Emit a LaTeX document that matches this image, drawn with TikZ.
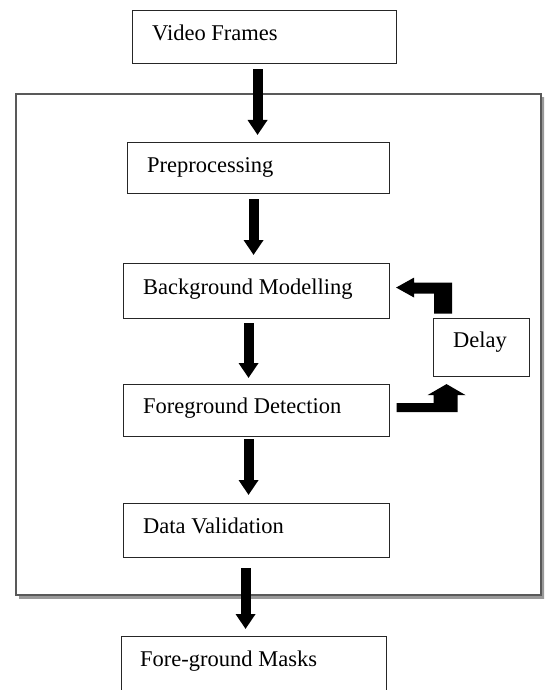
\documentclass[tikz,border=0pt]{standalone}
\usepackage{fontspec}
\setmainfont{Liberation Serif}
\usetikzlibrary{arrows.meta,calc}
\tikzset{
  box/.style={draw=black!85, line width=1.1pt, fill=white, anchor=north west, inner sep=0pt},
  lbl/.style={anchor=base west, inner sep=0pt, font=\fontsize{22.5}{27}\selectfont},
  barrow/.style={line width=10pt, -{Triangle[length=15pt,width=19pt]}},
  bent/.style={fill=black},
}
\begin{document}
\begin{tikzpicture}[x=1pt,y=-1pt]
\clip (0,0) rectangle (544,690);
\fill[white] (0,0) rectangle (544,690);
% outer frame with shadow on the bottom and right
\draw[black!40, line width=3pt] (19,597.5) -- (543,597.5) -- (543,97);
\draw[black!65, line width=1.8pt] (16,94) rectangle (541,595);
% boxes
\node[box, minimum width=264pt, minimum height=53pt] (vf) at (132,10) {};
\node[box, minimum width=262pt, minimum height=51pt] (pp) at (127,142) {};
\node[box, minimum width=266pt, minimum height=55pt] (bg) at (123,263) {};
\node[box, minimum width=266pt, minimum height=52pt] (fg) at (123,384) {};
\node[box, minimum width=266pt, minimum height=54pt] (dv) at (123,503) {};
\node[box, minimum width=265pt, minimum height=70pt] (fm) at (121,636) {};
\node[box, minimum width=96pt, minimum height=58pt] (dl) at (433,318) {};
% labels
\node[lbl] (vft) at (152,41) {Video Frames};
\node[lbl] (ppt) at (147,172) {Preprocessing};
\node[lbl] (bgt) at (143,294) {Background Modelling};
\node[lbl] (fgt) at (143,413) {Foreground Detection};
\node[lbl] (dvt) at (143,533) {Data Validation};
\node[lbl] (dlt) at (453,347) {Delay};
\node[lbl] (fmt) at (140,666) {Fore-ground Masks};
% straight arrows
\draw[barrow] ([shift={(-7,5)}]vf.south) -- ([shift={(-1,-7)}]pp.north);
\draw[barrow] ([shift={(-5,5)}]pp.south) -- ([shift={(-3,-8)}]bg.north);
\draw[barrow] ([shift={(-8,4)}]bg.south) -- ([shift={(-8,-6)}]fg.north);
\draw[barrow] ([shift={(-8,2)}]fg.south) -- ([shift={(-8,-8)}]dv.north);
\draw[barrow] ([shift={(-11,10)}]dv.south) -- ([shift={(-8.5,-7)}]fm.north);
% bent arrow: delay -> background modelling
\fill[bent] ([shift={(6,-3.5)}]bg.east) -- ++(18,-10) -- ++(0,5) -- ++(38,0) -- ++(0,31)
  -- ++(-18,0) -- ++(0,-20) -- ++(-20,0) -- ++(0,4) -- cycle;
% bent arrow: foreground detection -> delay
\fill[bent] ([shift={(-35,7)}]dl.south) -- ++(19,11) -- ++(-8,0) -- ++(0,17) -- ++(-61,0)
  -- ++(0,-9) -- ++(37,0) -- ++(0,-8) -- ++(-6,0) -- cycle;
\end{tikzpicture}
\end{document}
